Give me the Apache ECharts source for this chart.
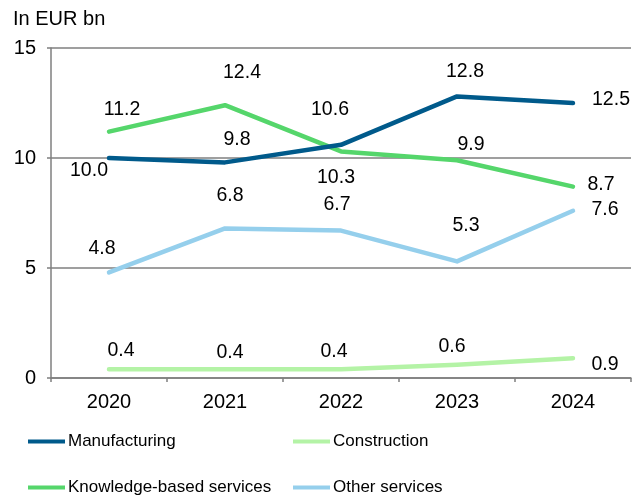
<!DOCTYPE html>
<html>
<head>
<meta charset="utf-8">
<script src="https://cdn.jsdelivr.net/npm/echarts@6/dist/echarts.min.js"></script>
<style>
  html, body { margin: 0; padding: 0; background: #ffffff; }
  #chart { width: 642px; height: 501px; }
</style>
</head>
<body>
<div id="chart"></div>
<script>
// Annual values, EUR bn
const years = ['2020', '2021', '2022', '2023', '2024'];
const manufacturing = [10.0, 9.8, 10.6, 12.8, 12.5];
const construction = [0.4, 0.4, 0.4, 0.6, 0.9];
const knowledgeServices = [11.2, 12.4, 10.3, 9.9, 8.7];
const otherServices = [4.8, 6.8, 6.7, 5.3, 7.6];
const yTicks = [0, 5, 10, 15];

// Label nudges (px) so the value labels sit clear of the lines
const offsManufacturing = [[-20, 13], [12, -23], [-11, -35], [8, -25], [38, -3]];
const offsConstruction = [[12, -19], [5, -17], [-7, -18], [-5, -18], [32, 6]];
const offsKnowledge = [[13, -22], [17, -33], [-5, 26], [14, -16], [28, -2]];
const offsOther = [[-7, -24], [5, -33], [-4, -26], [9, -36], [32, -1]];

const FONT = '"Liberation Sans", Arial, sans-serif';
const AXIS_GREY = '#7f7f7f';

function lineSeries(name, values, offsets, color, z) {
  return {
    name: name,
    type: 'line',
    z: z,
    data: values.map((v, i) => ({
      value: v,
      label: { offset: offsets[i] }
    })),
    symbol: 'circle',
    symbolSize: 1,
    showSymbol: true,
    itemStyle: { color: color },
    lineStyle: { color: color, width: 4.5, cap: 'round', join: 'round' },
    emphasis: { disabled: true },
    label: {
      show: true,
      position: 'inside',
      align: 'center',
      verticalAlign: 'middle',
      color: '#000000',
      fontFamily: FONT,
      fontSize: 19.5,
      formatter: p => p.value.toFixed(1)
    },
    animation: false
  };
}

function legendAt(name, left, top) {
  return {
    data: [name],
    left: left,
    top: top,
    icon: 'path://M0,0 L37,0 L37,4 L0,4 Z',
    itemWidth: 37,
    itemHeight: 4,
    itemGap: 0,
    padding: 0,
    textStyle: { fontFamily: FONT, fontSize: 17, color: '#000000', padding: [0, 0, 0, -2] },
    selectedMode: false
  };
}

const chart = echarts.init(document.getElementById('chart'), null, { renderer: 'canvas' });

chart.setOption({
  animation: false,
  backgroundColor: '#ffffff',
  title: {
    text: 'In EUR bn',
    left: 13,
    top: 9,
    padding: 0,
    textStyle: { fontFamily: FONT, fontSize: 20, fontWeight: 'normal', color: '#000000' }
  },
  grid: { left: 51, right: 11, top: 48, bottom: 123, containLabel: false },
  xAxis: {
    type: 'category',
    data: years,
    boundaryGap: true,
    axisLine: { show: true, lineStyle: { color: AXIS_GREY, width: 1.5 } },
    axisTick: { show: true, length: 4, inside: false, lineStyle: { color: AXIS_GREY, width: 1.5 } },
    axisLabel: { margin: 14, color: '#000000', fontFamily: FONT, fontSize: 20 },
    splitLine: { show: false }
  },
  yAxis: {
    type: 'value',
    min: yTicks[0],
    max: yTicks[yTicks.length - 1],
    interval: 5,
    axisLine: { show: true, lineStyle: { color: AXIS_GREY, width: 1.5 } },
    axisTick: { show: true, length: 4, lineStyle: { color: AXIS_GREY, width: 1.5 } },
    axisLabel: { margin: 15, color: '#000000', fontFamily: FONT, fontSize: 20 },
    splitLine: { show: true, lineStyle: { color: AXIS_GREY, width: 1.5 } }
  },
  legend: [
    legendAt('Manufacturing', 28, 433),
    legendAt('Construction', 293, 433),
    legendAt('Knowledge-based services', 28, 479),
    legendAt('Other services', 293, 479)
  ],
  series: [
    lineSeries('Construction', construction, offsConstruction, '#b4f3a6', 2),
    lineSeries('Other services', otherServices, offsOther, '#95cfec', 3),
    lineSeries('Knowledge-based services', knowledgeServices, offsKnowledge, '#55d66b', 4),
    lineSeries('Manufacturing', manufacturing, offsManufacturing, '#005a8b', 5)
  ]
});
</script>
</body>
</html>
